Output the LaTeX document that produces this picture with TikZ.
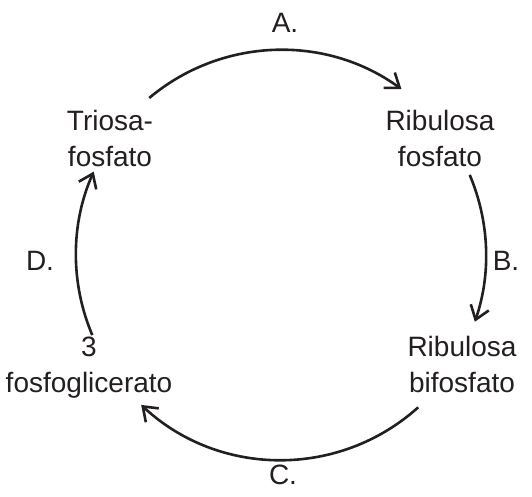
\documentclass[tikz,border=0pt]{standalone}
\usepackage{fontspec}
\setmainfont{Liberation Sans}
\usetikzlibrary{arrows.meta,calc}
\definecolor{ink}{HTML}{231F20}
\begin{document}
\begin{tikzpicture}[x=1pt,y=1pt,
  lbl/.style={font=\fontsize{28}{36}\selectfont, text=ink, align=center, inner sep=0pt, anchor=base},
  cyc/.style={draw=ink, line width=2.6pt, -{Straight Barb[length=13pt,width=19pt,line width=2.6pt]}}]
\useasboundingbox (0,0) rectangle (532,496);
\coordinate (O) at (281,241);
\node[lbl] (tri) at (110,329) {Triosa-\\fosfato};
\node[lbl] (rf) at (440,329) {Ribulosa\\fosfato};
\node[lbl] (pga) at (89,104) {3\\fosfoglicerato};
\node[lbl] (rbf) at (462,104) {Ribulosa\\bifosfato};
\node[lbl] (la) at (285,463) {A.};
\node[lbl] (lb) at (506,226) {B.};
\node[lbl] (lc) at (283,12) {C.};
\node[lbl] (ld) at (40,226) {D.};
\draw[cyc] ($(O)+(130:205)$) arc[start angle=130,end angle=54,radius=205];
\draw[cyc] ($(O)+(23:205)$) arc[start angle=23,end angle=-19,radius=205];
\draw[cyc] ($(O)+(-48:205)$) arc[start angle=-48,end angle=-133,radius=205];
\draw[cyc] ($(O)+(-157:205)$) arc[start angle=-157,end angle=-204,radius=205];
\end{tikzpicture}
\end{document}
